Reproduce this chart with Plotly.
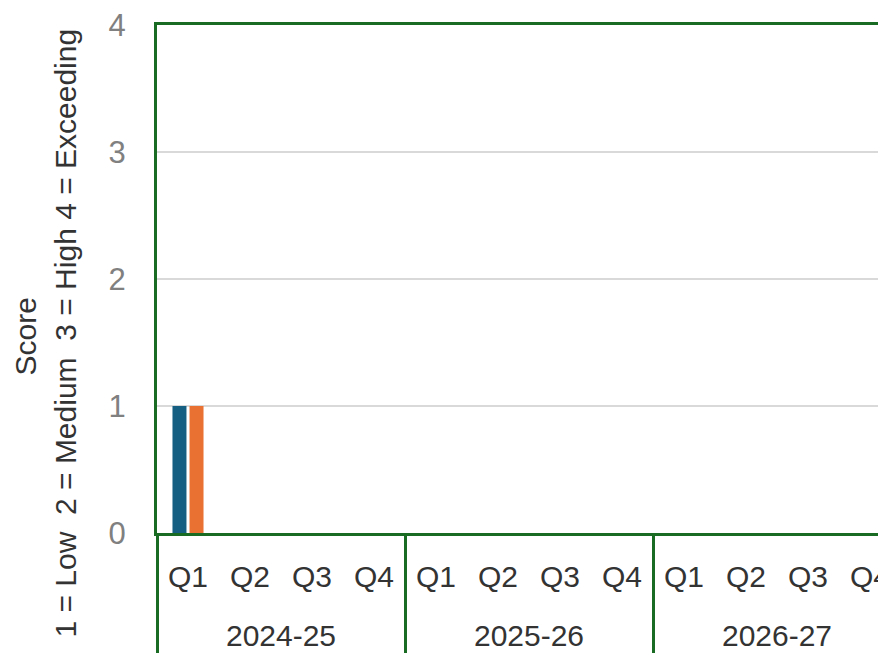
import plotly.graph_objects as go

years = ["2024-25"] * 4 + ["2025-26"] * 4 + ["2026-27"] * 4
quarters = ["Q1", "Q2", "Q3", "Q4"] * 3
series_a = [1, None, None, None, None, None, None, None, None, None, None, None]
series_b = [1, None, None, None, None, None, None, None, None, None, None, None]
y_ticks = [0, 1, 2, 3, 4]

GREEN = "#196B24"
FONT = "Liberation Sans, Arial, sans-serif"

# second-level labels are pushed one line lower
year_labels = ["<br>" + y for y in years]

fig = go.Figure()
fig.add_trace(go.Bar(x=[year_labels, quarters], y=series_a, name="Series 1",
                     marker=dict(color="#156082", line=dict(width=0))))
fig.add_trace(go.Bar(x=[year_labels, quarters], y=series_b, name="Series 2",
                     marker=dict(color="#E97132", line=dict(width=0))))

OFF = 8  # page body margin
W, H = 870, 645
ml, mt = 157 - OFF, 21 - OFF
mb = H - (533 - OFF)
plot_w = W - ml
plot_h = H - mt - mb
cat_px = 62.0
x_end = -0.5 + plot_w / cat_px


def px_x(px):
    return (px - OFF - ml) / plot_w


def px_y(py):
    return (H - mb - (py - OFF)) / plot_h


fig.update_layout(
    width=W, height=H,
    margin=dict(l=ml, r=0, t=mt, b=mb, pad=0),
    paper_bgcolor="white", plot_bgcolor="white",
    barmode="group", bargap=0.45, bargroupgap=0.18,
    showlegend=False,
    font=dict(family=FONT, size=30, color="#333333"),
    xaxis=dict(
        type="multicategory",
        range=[-0.5, x_end],
        showline=True, linecolor=GREEN, linewidth=3, mirror=True,
        showdividers=True, dividercolor=GREEN, dividerwidth=3,
        tickfont=dict(family=FONT, size=30, color="#333333"),
        showgrid=False, ticks="", ticklabelstandoff=15,
    ),
    yaxis=dict(
        range=[0, 4], tickvals=y_ticks,
        showline=True, linecolor=GREEN, linewidth=3,
        showgrid=True, gridcolor="#D9D9D9", gridwidth=2,
        zeroline=False,
        tickfont=dict(family=FONT, size=31, color="#808080"),
        ticks="outside", ticklen=22, tickcolor="rgba(0,0,0,0)",
        ticklabeloverflow="allow",
    ),
    annotations=[
        dict(text="Score", textangle=-90, xref="paper", yref="paper",
             x=px_x(26), y=px_y(335), showarrow=False,
             xanchor="center", yanchor="middle",
             font=dict(family=FONT, size=30, color="#333333")),
        dict(text="1 = Low \u00a02 = Medium \u00a03 = High 4 = Exceeding", textangle=-90,
             xref="paper", yref="paper",
             x=px_x(66), y=px_y(332), showarrow=False,
             xanchor="center", yanchor="middle",
             font=dict(family=FONT, size=30, color="#333333")),
    ],
)

fig.write_html("out.html")
